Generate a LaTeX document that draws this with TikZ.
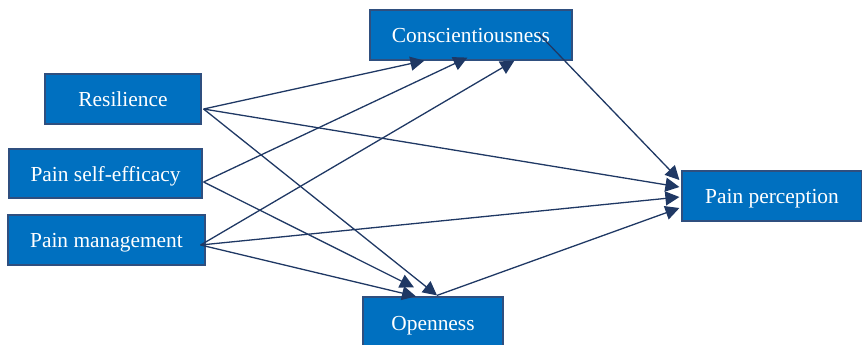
\documentclass[tikz,border=0pt]{standalone}
\usepackage{fontspec}
\setmainfont{Liberation Serif}
\usetikzlibrary{arrows.meta,calc}
\definecolor{boxfill}{HTML}{0070C0}
\definecolor{boxline}{HTML}{2F4F7F}
\definecolor{arrowc}{HTML}{1F3864}
\begin{document}
\begin{tikzpicture}[x=0.5pt,y=-0.5pt,
  box/.style={draw=boxline,line width=0.6pt,fill=boxfill,text=white,
    inner sep=0pt,text height=7.7pt,text depth=0pt,font=\fontsize{10.7}{12}\selectfont},
  link/.style={draw=arrowc,line width=0.65pt,-{Triangle[length=7pt,width=7pt]}}]
\useasboundingbox (0,0) rectangle (862,344);
\node[box,minimum width=101pt,minimum height=25pt] (cons) at (471,35) {Conscientiousness};
\node[box,minimum width=78pt,minimum height=25pt] (res) at (123,99) {Resilience};
\node[box,minimum width=96.5pt,minimum height=24.5pt] (se) at (105.5,173.5) {Pain self-efficacy};
\node[box,minimum width=98.5pt,minimum height=25pt] (pm) at (106.5,240) {Pain management};
\node[box,minimum width=70pt,minimum height=25.5pt] (op) at (433,322.5) {Openness};
\node[box,minimum width=90pt,minimum height=25pt] (pp) at (772,196) {Pain perception};
% Resilience
\draw[link] ($(res.east)+(2,10)$) -- ($(cons.south west)+(55,0)$);
\draw[link] ($(res.east)+(2,10)$) -- ($(pp.west)+(-2,-9)$);
\draw[link] ($(res.east)+(2,10)$) -- ($(op.north)+(4,-1)$);
% Pain self-efficacy
\draw[link] ($(se.east)+(1,8.5)$) -- ($(cons.south west)+(98,-3)$);
\draw[link] ($(se.east)+(1,8.5)$) -- ($(op.north)+(-19,-9)$);
% Pain management
\draw[link] ($(pm.east)+(-5,5)$) -- ($(cons.south west)+(145,0)$);
\draw[link] ($(pm.east)+(-5,5)$) -- ($(pp.west)+(-2,1)$);
\draw[link] ($(pm.east)+(-5,5)$) -- ($(op.north)+(-17,0)$);
% Conscientiousness and Openness to Pain perception
\draw[link] ($(cons.center)+(67,-2)$) -- ($(pp.west)+(-2,-16)$);
\draw[link] ($(op.north)+(4,-1)$) -- ($(pp.west)+(-2,12)$);
\end{tikzpicture}
\end{document}
